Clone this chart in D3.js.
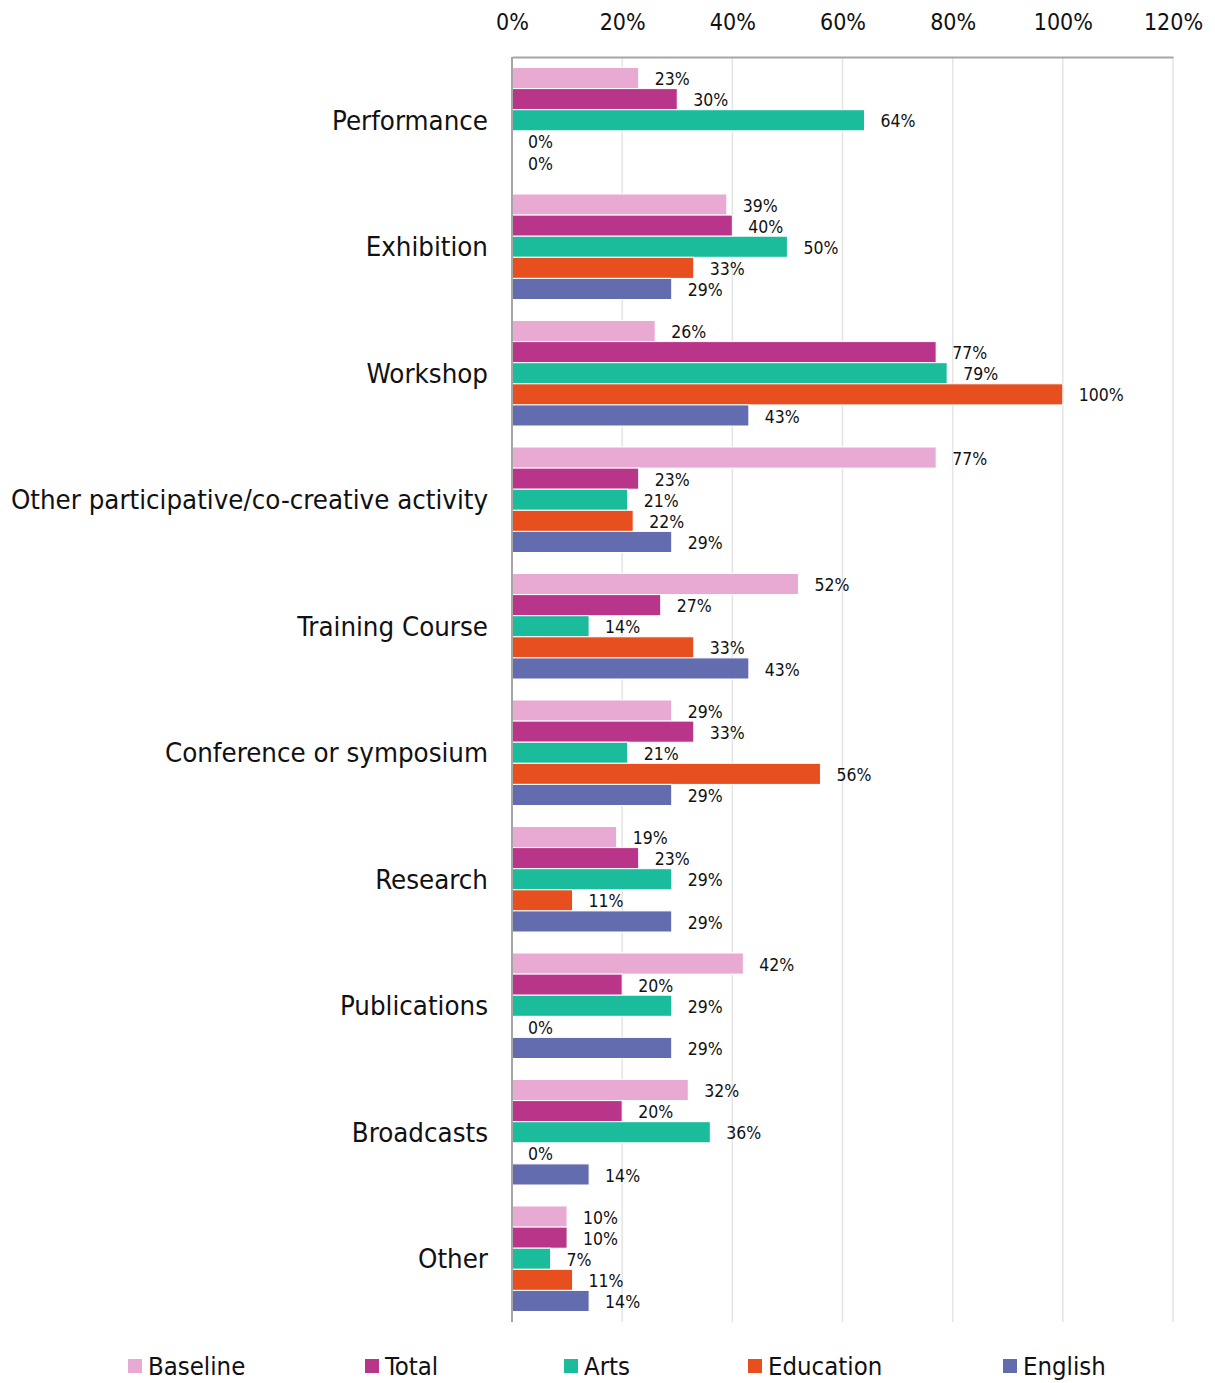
<!DOCTYPE html>
<html>
<head>
<meta charset="utf-8">
<script src="https://cdn.jsdelivr.net/npm/d3@7"></script>
<style>
  html, body { margin: 0; padding: 0; background: #fff; }
  svg { display: block; font-family: "DejaVu Sans Condensed", "DejaVu Sans", sans-serif; }
</style>
</head>
<body>
<svg id="chart" width="1215" height="1383"></svg>
<script>
// Activity categories, top to bottom
const categories = [
  "Performance",
  "Exhibition",
  "Workshop",
  "Other participative/co-creative activity",
  "Training Course",
  "Conference or symposium",
  "Research",
  "Publications",
  "Broadcasts",
  "Other"
];

const seriesNames = ["Baseline", "Total", "Arts", "Education", "English"];

// Share of respondents (%) per category, one array per series
const baseline  = [23, 39, 26, 77, 52, 29, 19, 42, 32, 10];
const total     = [30, 40, 77, 23, 27, 33, 23, 20, 20, 10];
const arts      = [64, 50, 79, 21, 14, 21, 29, 29, 36, 7];
const education = [0, 33, 100, 22, 33, 56, 11, 0, 0, 11];
const english   = [0, 29, 43, 29, 43, 29, 29, 29, 14, 14];

const tickValues = [0, 20, 40, 60, 80, 100, 120];

const seriesColors = ["#e8a9d2", "#b8358a", "#1abc9c", "#e84f1f", "#646cb0"];

const seriesValues = [baseline, total, arts, education, english];

const svg = d3.select("#chart");

const plot = { left: 512, right: 1173, top: 57, bottom: 1322 };

const x = d3.scaleLinear().domain([0, 120]).range([plot.left, plot.right]);

const y0 = d3.scaleBand()
  .domain(categories)
  .range([plot.top, plot.bottom])
  .paddingInner(0.166)
  .paddingOuter(0.083);

const y1 = d3.scaleBand()
  .domain(seriesNames)
  .range([0, y0.bandwidth()]);

const color = d3.scaleOrdinal().domain(seriesNames).range(seriesColors);

// Vertical gridlines
svg.append("g")
  .selectAll("line")
  .data(tickValues.slice(1))
  .join("line")
  .attr("x1", d => x(d)).attr("x2", d => x(d))
  .attr("y1", plot.top).attr("y2", plot.bottom)
  .attr("stroke", "#e4e4e4")
  .attr("stroke-width", 1.5);

// Top axis with percent tick labels
const xAxis = d3.axisTop(x)
  .tickValues(tickValues)
  .tickFormat(d => d + "%")
  .tickSize(0)
  .tickPadding(0);

const gx = svg.append("g")
  .attr("transform", `translate(0,${plot.top})`)
  .call(xAxis);
gx.select(".domain").attr("stroke", "#a6a6a6").attr("stroke-width", 2);
gx.selectAll("text")
  .attr("y", -35)
  .attr("dy", "0.35em")
  .attr("font-size", 23)
  .attr("font-family", "DejaVu Sans Condensed, DejaVu Sans, sans-serif")
  .attr("fill", "#111");

// Grouped bars
const rows = categories.map((c, i) => ({
  category: c,
  values: seriesNames.map((s, j) => ({ series: s, value: seriesValues[j][i] }))
}));

const groups = svg.append("g")
  .selectAll("g")
  .data(rows)
  .join("g")
  .attr("transform", d => `translate(0,${y0(d.category)})`);

groups.selectAll("rect")
  .data(d => d.values)
  .join("rect")
  .attr("x", x(0))
  .attr("y", d => y1(d.series))
  .attr("width", d => x(d.value) - x(0))
  .attr("height", y1.bandwidth())
  .attr("fill", d => color(d.series))
  .attr("stroke", "#fff")
  .attr("stroke-width", d => d.value > 0 ? 1 : 0);

groups.selectAll("text.val")
  .data(d => d.values)
  .join("text")
  .attr("class", "val")
  .attr("x", d => x(d.value) + 16)
  .attr("y", d => y1(d.series) + y1.bandwidth() / 2 + 1)
  .attr("dy", "0.35em")
  .attr("font-size", 17.5)
  .attr("fill", "#111")
  .text(d => d.value + "%");

// Left axis line and category labels
svg.append("line")
  .attr("x1", x(0)).attr("x2", x(0))
  .attr("y1", plot.top).attr("y2", plot.bottom)
  .attr("stroke", "#a6a6a6")
  .attr("stroke-width", 2);

svg.append("g")
  .selectAll("text")
  .data(categories)
  .join("text")
  .attr("x", 488)
  .attr("y", d => y0(d) + y0.bandwidth() / 2)
  .attr("dy", "0.35em")
  .attr("text-anchor", "end")
  .attr("font-size", 27.4)
  .attr("fill", "#111")
  .text(d => d);

// Legend
const legendX = [128, 365, 564, 748, 1003];
const legend = svg.append("g")
  .selectAll("g")
  .data(seriesNames)
  .join("g")
  .attr("transform", (d, i) => `translate(${legendX[i]},1366)`);

legend.append("rect")
  .attr("x", 0).attr("y", -7)
  .attr("width", 14).attr("height", 14)
  .attr("fill", d => color(d));

legend.append("text")
  .attr("x", 20)
  .attr("y", 0)
  .attr("dy", "0.35em")
  .attr("font-size", 25.5)
  .attr("fill", "#111")
  .text(d => d);
</script>
</body>
</html>
